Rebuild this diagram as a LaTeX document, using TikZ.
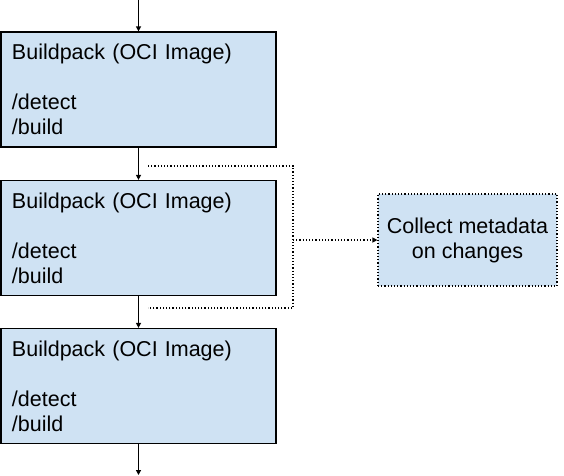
\documentclass[tikz,border=0pt]{standalone}
\usepackage{fontspec}
\setmainfont{Liberation Sans}
\usetikzlibrary{arrows.meta, positioning}
\definecolor{packblue}{HTML}{CFE2F3}

\begin{document}
\begin{tikzpicture}[x=1pt, y=-1pt]
		\tikzset{pack/.style = {shape=rectangle, draw, fill=packblue, line width=1.2pt, minimum width=275pt, minimum height=115pt, text width=253pt, inner xsep=11pt, align=left, font=\fontsize{21.5}{25}\selectfont}}
		\tikzset{meta/.style = {shape=rectangle, draw, dotted, fill=packblue, line width=1.2pt, minimum width=179pt, minimum height=92pt, align=center, font=\fontsize{21.5}{25}\selectfont}}
		\tikzset{edge/.style = {-{Triangle[length=5pt, width=5pt]}, line width=1.2pt}}
		\tikzset{dots/.style = {line width=1.2pt, dash pattern=on 1.2pt off 2pt}}

		\useasboundingbox (0,0) rectangle (564,475);

		\node[pack] (p1) at (138.5, 89.5) {Buildpack (OCI Image)\\[25pt]/detect\\/build};
		\node[pack] (p2) at (138.5, 238) {Buildpack (OCI Image)\\[25pt]/detect\\/build};
		\node[pack] (p3) at (138.5, 386) {Buildpack (OCI Image)\\[25pt]/detect\\/build};
		\node[meta] (m) at (467.5, 240) {Collect metadata\\on changes};

		\coordinate (in) at (138.5, 0);
		\coordinate (out) at (138.5, 475);
		\coordinate (t1) at (148, 166);
		\coordinate (t2) at (293, 166);
		\coordinate (b2) at (293, 308);
		\coordinate (b1) at (148, 308);
		\coordinate (mid) at (293, 240);

		\draw[edge] (in) -- (p1);
		\draw[edge] (p1) -- (p2);
		\draw[edge] (p2) -- (p3);
		\draw[edge] (p3) -- (out);

		\draw[dots] (t1) -- (t2) -- (b2) -- (b1);
		\draw[dots, -{Triangle[length=5pt, width=5pt]}] (mid) -- (m);

	\end{tikzpicture}
\end{document}
